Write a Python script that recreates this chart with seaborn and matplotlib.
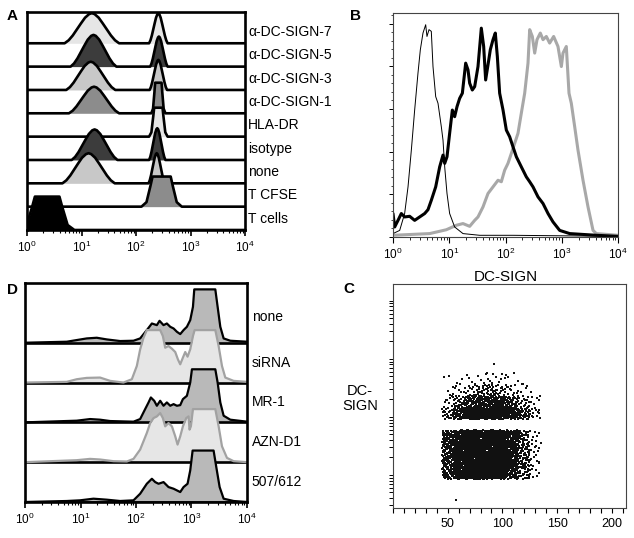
import numpy as np
import matplotlib
matplotlib.use("Agg")
import matplotlib.pyplot as plt
import seaborn as sns
from matplotlib.ticker import LogLocator, NullFormatter, MultipleLocator

# ---------------- data ----------------
decades = [1, 10, 100, 1000, 10000]
decade_labels = [r"$\mathregular{10^{0}}$", r"$\mathregular{10^{1}}$", r"$\mathregular{10^{2}}$",
                 r"$\mathregular{10^{3}}$", r"$\mathregular{10^{4}}$"]

# normalised peak outlines (u: -1..1 across the peak base)
bell_u = [-1.0, -0.85, -0.7, -0.55, -0.4, -0.25, -0.1, 0.0, 0.1, 0.25, 0.4, 0.55, 0.7, 0.85, 1.0]
bell_h = [0.0, 0.10, 0.26, 0.46, 0.66, 0.85, 0.97, 1.0, 0.97, 0.85, 0.66, 0.46, 0.26, 0.10, 0.0]
flat_u = [-1.0, -0.75, -0.55, -0.45, 0.45, 0.55, 0.75, 1.0]
flat_h = [0.0, 0.15, 0.7, 1.0, 1.0, 0.7, 0.15, 0.0]

# panel A, rows top to bottom; peaks = (log10 centre, half width, height in rows)
a_labels = ["α-DC-SIGN-7", "α-DC-SIGN-5", "α-DC-SIGN-3", "α-DC-SIGN-1",
            "HLA-DR", "isotype", "none", "T CFSE", "T cells"]
a_left = [(1.19, 0.50, 1.29), (1.22, 0.42, 1.36), (1.17, 0.45, 1.21), (1.23, 0.46, 1.14),
          None, (1.24, 0.42, 1.31), (1.13, 0.48, 1.29), None, (0.37, 0.50, 1.43)]
a_right = [(2.41, 0.17, 1.29), (2.42, 0.16, 1.29), (2.41, 0.16, 1.29), (2.41, 0.13, 1.31),
           (2.41, 0.17, 1.24), (2.39, 0.15, 1.36), (2.38, 0.15, 1.29), (2.47, 0.37, 1.29), None]
a_left_shape = ["bell", "bell", "bell", "bell", None, "bell", "bell", None, "flat"]
a_right_shape = ["bell", "bell", "bell", "flat", "flat", "bell", "bell", "flat", None]
a_fill = ["#e6e6e6", "#3c3c3c", "#c8c8c8", "#8c8c8c",
          "#e6e6e6", "#3c3c3c", "#c8c8c8", "#8c8c8c", "#000000"]

# panel B, log10 DC-SIGN vs counts
b_thin_x = [0.0, 0.119, 0.207, 0.267, 0.326, 0.385, 0.444, 0.486, 0.533, 0.581, 0.604, 0.640,
            0.681, 0.711, 0.759, 0.800, 0.859, 0.889, 0.919, 0.960, 1.007, 1.096, 1.244, 1.541,
            2.133, 4.0]
b_thin_y = [1.6, 3.1, 11.0, 23.5, 40.7, 59.5, 76.8, 87.8, 95.6, 99.5, 94.0, 97.2,
            96.4, 79.9, 65.8, 62.7, 51.7, 45.4, 32.9, 20.4, 11.0, 4.7, 1.6, 0.8,
            0.8, 0.3]
b_thick_x = [0.0, 0.030, 0.089, 0.148, 0.207, 0.296, 0.385, 0.474, 0.563, 0.622, 0.681, 0.759,
             0.830, 0.889, 0.919, 0.960, 1.007, 1.055, 1.096, 1.138, 1.185, 1.233, 1.292, 1.333,
             1.363, 1.410, 1.452, 1.511, 1.570, 1.612, 1.647, 1.689, 1.730, 1.778, 1.819, 1.855,
             1.896, 1.956, 2.015, 2.074, 2.133, 2.193, 2.281, 2.370, 2.430, 2.489, 2.578, 2.667,
             2.756, 2.844, 2.963, 3.141, 3.319, 3.615, 4.0]
b_thick_y = [11.0, 4.7, 7.8, 11.0, 9.4, 9.7, 7.8, 9.4, 11.0, 12.8, 17.2, 23.5,
             32.9, 38.4, 34.5, 37.6, 48.6, 59.5, 56.4, 61.1, 65.0, 67.4, 81.5, 78.4,
             72.1, 68.9, 70.5, 79.9, 97.9, 89.3, 73.6, 80.7, 87.8, 92.5, 95.6, 84.6,
             67.4, 59.5, 50.1, 47.0, 42.3, 37.6, 32.9, 28.2, 25.9, 23.5, 18.8, 15.7,
             11.0, 7.1, 3.1, 1.6, 1.3, 0.8, 0.3]
b_gray_x = [0.0, 0.652, 0.948, 1.126, 1.244, 1.363, 1.452, 1.511, 1.600, 1.689, 1.778, 1.867,
            1.926, 1.985, 2.044, 2.104, 2.163, 2.222, 2.281, 2.341, 2.400, 2.430, 2.477, 2.519,
            2.560, 2.619, 2.667, 2.726, 2.785, 2.856, 2.933, 2.993, 3.022, 3.081, 3.129, 3.170,
            3.230, 3.289, 3.378, 3.467, 3.556, 3.615, 4.0]
b_gray_y = [0.8, 1.6, 3.4, 5.5, 6.3, 5.0, 7.8, 9.4, 14.1, 20.4, 23.5, 26.6,
            25.9, 31.3, 34.5, 39.2, 43.9, 48.6, 58.0, 67.4, 81.5, 97.2, 94.0, 86.2,
            92.5, 95.6, 92.5, 94.0, 90.9, 94.0, 89.3, 79.9, 86.2, 89.3, 67.4, 62.7,
            51.7, 40.7, 26.6, 14.1, 3.1, 1.6, 0.8]

# panel D, rows top to bottom, log10 x vs height in rows
d_labels = ["none", "siRNA", "MR-1", "AZN-D1", "507/612"]
d_x = [
    [0.0, 0.752, 0.932, 1.113, 1.293, 1.474, 1.714, 1.955, 2.075, 2.195, 2.286, 2.376, 2.424,
     2.496, 2.556, 2.617, 2.677, 2.737, 2.797, 2.857, 2.917, 2.977, 3.026, 3.050, 3.429, 3.471,
     3.519, 3.579, 3.699, 4.0],
    [0.0, 0.752, 0.932, 1.113, 1.353, 1.534, 1.774, 1.925, 2.015, 2.075, 2.135, 2.195, 2.436,
     2.484, 2.526, 2.586, 2.647, 2.707, 2.755, 2.797, 2.845, 2.887, 2.929, 2.977, 3.026, 3.056,
     3.429, 3.489, 3.549, 3.609, 3.759, 4.0],
    [0.0, 0.932, 1.173, 1.353, 1.534, 1.955, 2.075, 2.165, 2.226, 2.268, 2.328, 2.376, 2.436,
     2.496, 2.556, 2.617, 2.677, 2.737, 2.797, 2.845, 2.917, 2.977, 3.008, 3.429, 3.471, 3.519,
     3.579, 3.699, 4.0],
    [0.0, 0.932, 1.173, 1.353, 1.594, 1.835, 1.955, 2.075, 2.195, 2.256, 2.316, 2.376, 2.436,
     2.484, 2.526, 2.586, 2.647, 2.707, 2.749, 2.797, 2.845, 2.905, 2.947, 2.965, 2.989, 3.026,
     3.429, 3.489, 3.549, 3.639, 3.759, 4.0],
    [0.0, 0.752, 0.992, 1.233, 1.474, 1.714, 1.955, 2.075, 2.195, 2.286, 2.346, 2.406, 2.496,
     2.586, 2.677, 2.797, 2.857, 2.929, 2.977, 3.020, 3.398, 3.447, 3.507, 3.579, 3.759, 4.0],
]
d_h = [
    [0.0, 0.025, 0.067, 0.108, 0.125, 0.083, 0.042, 0.05, 0.108, 0.317, 0.483, 0.442, 0.55,
     0.442, 0.483, 0.40, 0.358, 0.275, 0.217, 0.317, 0.40, 0.567, 0.90, 1.34, 1.34, 0.90,
     0.40, 0.108, 0.05, 0.025],
    [0.0, 0.017, 0.083, 0.117, 0.125, 0.042, 0.0, 0.083, 0.417, 0.833, 1.125, 1.317, 1.317,
     1.167, 0.875, 0.917, 0.85, 0.767, 0.583, 0.458, 0.625, 0.767, 0.65, 0.833, 1.167, 1.317,
     1.317, 0.917, 0.417, 0.125, 0.042, 0.017],
    [0.0, 0.042, 0.083, 0.067, 0.033, 0.017, 0.083, 0.333, 0.50, 0.625, 0.542, 0.417, 0.542,
     0.417, 0.50, 0.417, 0.458, 0.417, 0.433, 0.583, 0.667, 1.00, 1.333, 1.333, 1.00, 0.50,
     0.167, 0.067, 0.017],
    [0.0, 0.05, 0.083, 0.067, 0.025, 0.017, 0.083, 0.317, 0.733, 0.983, 1.108, 1.15, 1.233,
     1.108, 0.90, 0.983, 0.90, 0.65, 0.442, 0.65, 0.90, 1.108, 1.15, 0.817, 0.90, 1.333,
     1.333, 0.90, 0.40, 0.108, 0.025, 0.0],
    [0.0, 0.025, 0.042, 0.083, 0.058, 0.025, 0.042, 0.208, 0.458, 0.583, 0.50, 0.458, 0.50,
     0.375, 0.333, 0.25, 0.375, 0.458, 0.792, 1.292, 1.292, 0.875, 0.375, 0.083, 0.025, 0.0],
]
d_fill = ["#b9b9b9", "#e6e6e6", "#b9b9b9", "#e6e6e6", "#b9b9b9"]
d_edge = ["#000000", "#a2a2a2", "#000000", "#a2a2a2", "#000000"]

# panel C, dot counts per cell (x = forward scatter, y = log10 DC-SIGN)
c_x_edges = [45, 55, 65, 75, 85, 95, 105, 115, 125, 135]
c_low_y_edges = [0.93, 1.14, 1.35, 1.56, 1.77]
c_low_counts = [[35, 70, 80, 85, 80, 70, 50, 25, 6],
                [45, 85, 95, 95, 95, 85, 60, 30, 8],
                [45, 90, 100, 100, 100, 90, 65, 30, 8],
                [40, 85, 95, 100, 95, 85, 60, 25, 6]]
c_high_y_edges = [1.96, 2.16, 2.36, 2.56, 2.77]
c_high_counts = [[20, 50, 70, 85, 85, 75, 55, 35, 12],
                 [8, 22, 38, 48, 52, 45, 30, 15, 5],
                 [3, 6, 12, 18, 22, 16, 9, 4, 2],
                 [1, 2, 3, 5, 6, 5, 3, 1, 0]]
c_stray_x = [58, 92, 47]
c_stray_y = [0.56, 2.91, 2.68]
c_ticks = [50, 100, 150, 200]


# ---------------- helpers ----------------
def peak_outline(peaks, shapes):
    templates = {"bell": (bell_u, bell_h), "flat": (flat_u, flat_h)}
    xs, ys = [-0.5], [0.0]
    for pk, shape in zip(peaks, shapes):
        if pk is None:
            continue
        c, w, h = pk
        tu, th = templates[shape]
        xs += [c + w * u for u in tu]
        ys += [h * t for t in th]
    xs.append(4.5)
    ys.append(0.0)
    return np.array(xs), np.array(ys)


def halton(i, base):
    f, r = 1.0, 0.0
    while i > 0:
        f /= base
        r += f * (i % base)
        i //= base
    return r


def cell_dots(x_edges, y_edges, counts, k):
    xs, ys = [], []
    for r, row in enumerate(counts):
        for c, n in enumerate(row):
            for _ in range(n):
                k += 1
                xs.append(x_edges[c] + (x_edges[c + 1] - x_edges[c]) * halton(k, 2))
                ys.append(y_edges[r] + (y_edges[r + 1] - y_edges[r]) * halton(k, 3))
    return xs, ys, k


def log_xaxis(ax, labels=True):
    ax.set_xscale("log")
    ax.set_xlim(1, 10000)
    ax.set_xticks(decades)
    ax.set_xticklabels(decade_labels if labels else [])
    ax.xaxis.set_minor_locator(LogLocator(base=10, subs=np.arange(2, 10)))
    ax.xaxis.set_minor_formatter(NullFormatter())


# ---------------- figure ----------------
sns.set_style("ticks")
plt.rcParams["font.family"] = ["Liberation Sans", "DejaVu Sans"]
plt.rcParams["mathtext.fontset"] = "custom"
plt.rcParams["mathtext.rm"] = "Liberation Sans"
for key in ("text.color", "axes.labelcolor", "xtick.color", "ytick.color"):
    plt.rcParams[key] = "black"

fig = plt.figure(figsize=(6.34, 5.38), dpi=100)


def box(x0, y0, x1, y1):
    return [x0 / 634, 1 - y1 / 538, (x1 - x0) / 634, (y1 - y0) / 538]


axA = fig.add_axes(box(27, 12, 245, 230))
axB = fig.add_axes(box(393, 13, 618, 237))
axD = fig.add_axes(box(25, 283, 247, 502))
axC = fig.add_axes(box(393, 284, 626, 508))

# ---- A
n_a = len(a_labels)
for k in range(n_a):
    base = n_a - 1 - k
    xs, ys = peak_outline([a_left[k], a_right[k]], [a_left_shape[k], a_right_shape[k]])
    z = 2 + k
    axA.fill_between(10 ** xs, base, base + ys, color=a_fill[k], lw=0, zorder=z)
    sns.lineplot(x=10 ** xs, y=base + ys, sort=False, estimator=None, color="black",
                 lw=1.9, ax=axA, zorder=z + 0.5, legend=False)
    axA.text(1.014, base + 0.48, a_labels[k], transform=axA.get_yaxis_transform(),
             fontsize=10, va="center", ha="left")
axA.set_ylim(0, n_a - 1 + 1.34)
axA.set_yticks([])
log_xaxis(axA)

# ---- D
n_d = len(d_labels)
for k in range(n_d):
    base = n_d - 1 - k
    xs = 10 ** np.array(d_x[k])
    ys = base + np.array(d_h[k])
    z = 2 + k
    axD.fill_between(xs, base, ys, color=d_fill[k], lw=0, zorder=z)
    axD.plot([1, 10000], [base, base], color="black", lw=1.9, zorder=z + 0.2,
             solid_capstyle="butt")
    sns.lineplot(x=xs, y=ys, sort=False, estimator=None, color=d_edge[k],
                 lw=1.6, ax=axD, zorder=z + 0.5, legend=False)
    off = 0.65 if k == 0 else 0.5
    axD.text(1.022, base + off, d_labels[k], transform=axD.get_yaxis_transform(),
             fontsize=10, va="center", ha="left")
axD.set_ylim(0, n_d - 1 + 1.5)
axD.set_yticks([])
log_xaxis(axD)

for ax in (axA, axD):
    for sp in ax.spines.values():
        sp.set_linewidth(1.9)
        sp.set_color("black")
        sp.set_zorder(20)
    ax.tick_params(axis="x", which="major", length=4, width=1.2, labelsize=8.5, pad=3)
    ax.tick_params(axis="x", which="minor", length=2, width=0.8)

# ---- B
sns.lineplot(x=10 ** np.array(b_gray_x), y=b_gray_y, sort=False, estimator=None,
             color="#a8a8a8", lw=2.2, ax=axB, legend=False)
sns.lineplot(x=10 ** np.array(b_thick_x), y=b_thick_y, sort=False, estimator=None,
             color="black", lw=2.2, ax=axB, legend=False)
sns.lineplot(x=10 ** np.array(b_thin_x), y=b_thin_y, sort=False, estimator=None,
             color="black", lw=0.7, ax=axB, legend=False)
log_xaxis(axB)
axB.set_ylim(0, 105)
axB.yaxis.set_major_locator(MultipleLocator(20))
axB.yaxis.set_minor_locator(MultipleLocator(4))
axB.set_yticklabels([])
axB.set_xlabel("DC-SIGN", fontsize=11, labelpad=6)
axB.tick_params(axis="x", which="major", length=4, width=0.8, labelsize=8.5, pad=3)
axB.tick_params(axis="x", which="minor", length=2, width=0.6)
axB.tick_params(axis="y", which="major", length=3, width=0.7)
axB.tick_params(axis="y", which="minor", length=1.5, width=0.5)

# ---- C
lx, ly, kk = cell_dots(c_x_edges, c_low_y_edges, c_low_counts, 0)
hx, hy, kk = cell_dots(c_x_edges, c_high_y_edges, c_high_counts, kk)
dots_x = lx + hx + c_stray_x
dots_y = 10 ** np.array(ly + hy + c_stray_y)
sns.scatterplot(x=dots_x, y=dots_y, s=1.1, color="#111111", marker="s", linewidth=0,
                ax=axC, legend=False)
axC.set_yscale("log")
axC.set_ylim(10 ** 0.43, 10 ** 4.29)
axC.yaxis.set_major_locator(LogLocator(base=10))
axC.yaxis.set_minor_locator(LogLocator(base=10, subs=np.arange(2, 10)))
axC.yaxis.set_major_formatter(NullFormatter())
axC.yaxis.set_minor_formatter(NullFormatter())
axC.set_xlim(0, 213)
axC.set_xticks(c_ticks)
axC.xaxis.set_minor_locator(MultipleLocator(10))
axC.tick_params(axis="x", which="both", length=3.5, width=0.8, labelsize=9, pad=4)
axC.tick_params(axis="y", which="both", length=3, width=0.7)
axC.set_ylabel("DC-\nSIGN", rotation=0, fontsize=10.5, ha="center", va="center",
               linespacing=1.1)
axC.yaxis.set_label_coords(-0.142, 0.49)

for ax in (axB, axC):
    for sp in ax.spines.values():
        sp.set_linewidth(0.8)
        sp.set_color("#444444")

# panel letters
for letter, (x, y) in {"A": (7, 9), "B": (350, 9), "D": (7, 283), "C": (343, 282)}.items():
    fig.text(x / 634, 1 - y / 538, letter, fontsize=11, fontweight="bold", ha="left", va="top")

fig.savefig("out.png", dpi=100)
